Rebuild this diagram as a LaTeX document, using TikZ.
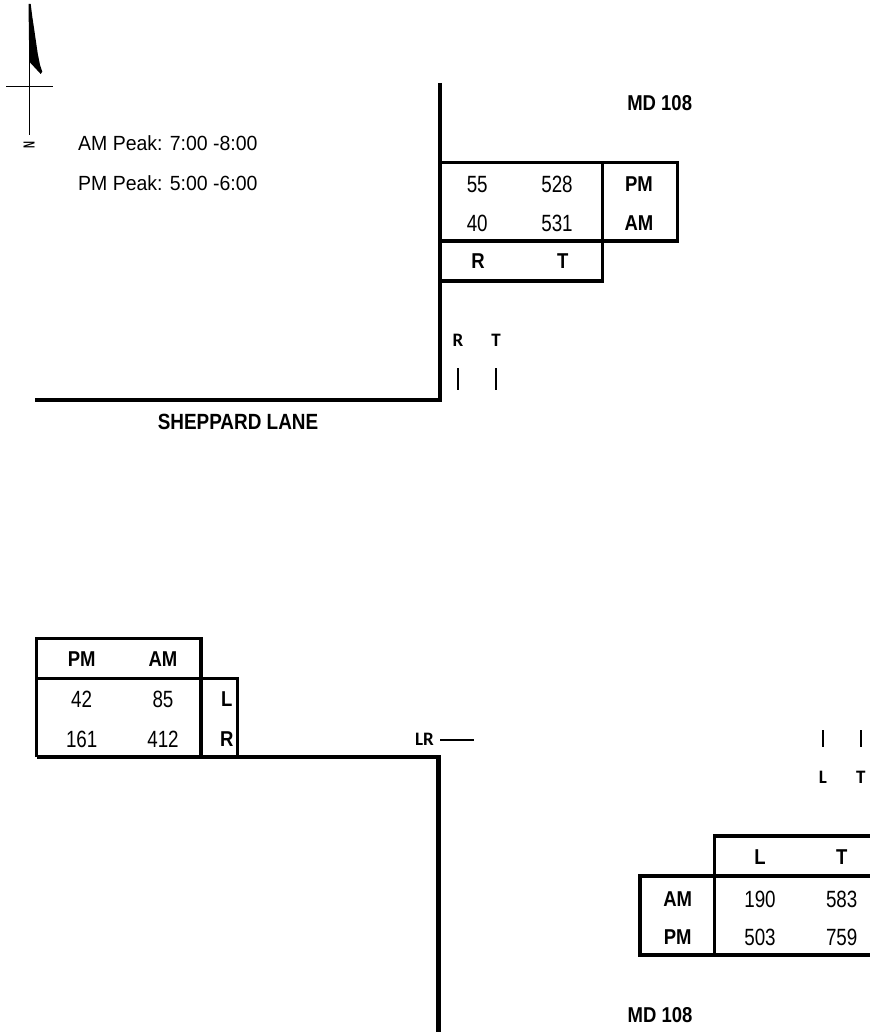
\documentclass[tikz,border=0pt]{standalone}
\usepackage{fontspec}
\setmainfont{Liberation Sans}
\newfontfamily\numfont[FakeStretch=0.80]{Liberation Sans}
\newfontfamily\peakfont[FakeStretch=0.95]{Liberation Sans}
\newfontfamily\labfont[FakeStretch=0.86]{Liberation Sans}
\newfontfamily\calfont{Carlito}
\begin{document}
\begin{tikzpicture}[x=1pt,y=-1pt,
  road/.style={line width=4.6pt, line join=miter},
  tbl/.style={line width=3.2pt, line join=miter},
  num/.style={font=\fontsize{23.5}{24}\numfont, inner sep=0},
  peak/.style={font=\fontsize{20.5}{21}\peakfont, inner sep=0},
  lab/.style={font=\fontsize{21.5}{22}\labfont\bfseries, inner sep=0},
  small/.style={font=\fontsize{19}{20}\calfont\bfseries, inner sep=0},
  tick/.style={line width=2pt}]
\useasboundingbox (0,0) rectangle (869,1032);
% north arrow
\draw[line width=1pt] (29,4) -- (29,135);
\draw[line width=1pt] (6,86.7) -- (52.7,86.7);
\fill (28.5,4) -- (30.7,4) -- (32.3,16.7) -- (34.3,30) -- (36,41.7) -- (37.7,53.3) -- (40,65) -- (42.3,71.7) -- (40.7,74) -- (29.3,61.7) -- cycle;
\node[rotate=90, inner sep=0, font=\fontsize{16}{16}\selectfont\bfseries] (north) at (29,145) {\scalebox{0.6}[1]{N}};
\node[peak, anchor=base west] (ampeak) at (78,150.7) {AM Peak: 7:00 -8:00};
\node[peak, anchor=base west] (pmpeak) at (78,190.7) {PM Peak: 5:00 -6:00};
% top intersection
\draw[road] (440,83) -- (440,400) -- (35,400);
\draw[tbl] (440,162.5) -- (677.5,162.5) -- (677.5,241) -- (440,241);
\draw[tbl] (602.7,162.5) -- (602.7,281) -- (440,281);
\node[lab, anchor=base] (mdtop) at (659.7,110.5) {MD 108};
\node[num, anchor=base] (a55) at (477.2,192.3) {55};
\node[num, anchor=base] (a528) at (557,192.3) {528};
\node[lab, anchor=base] (apm) at (639,191.7) {PM};
\node[num, anchor=base] (a40) at (477.2,231.5) {40};
\node[num, anchor=base] (a531) at (557,231.5) {531};
\node[lab, anchor=base] (aam) at (639,230) {AM};
\node[lab, anchor=base] (ar) at (478,268.5) {R};
\node[lab, anchor=base] (at) at (562.7,268.5) {T};
\node[small, anchor=base] (sr) at (458,346.7) {R};
\node[small, anchor=base] (st) at (496,346.7) {T};
\draw[tick] (458,368.3) -- (458,390);
\draw[tick] (496,368.3) -- (496,390);
\node[lab, anchor=base, font=\fontsize{22}{22}\labfont\bfseries] (sheppard) at (238,429.3) {SHEPPARD LANE};
% bottom intersection
\draw[tbl] (36.7,757) -- (36.7,638.3) -- (201,638.3) -- (201,757);
\draw[tbl] (36.7,678.3) -- (237.3,678.3) -- (237.3,757);
\draw[road] (36.7,757) -- (438.5,757) -- (438.5,1045);
\node[lab, anchor=base] (bpm) at (81.7,666.5) {PM};
\node[lab, anchor=base] (bam) at (163,666.5) {AM};
\node[num, anchor=base] (b42) at (81.7,707.5) {42};
\node[num, anchor=base] (b85) at (163,707.5) {85};
\node[lab, anchor=base] (bl) at (226.7,706.7) {L};
\node[num, anchor=base] (b161) at (81.7,747.5) {161};
\node[num, anchor=base] (b412) at (163,747.5) {412};
\node[lab, anchor=base] (br) at (226.7,746.7) {R};
\node[small, anchor=base west] (lr) at (415,745) {LR};
\coordinate (dashend) at (474,740);
\draw[line width=1.3pt] (lr.east |- dashend) ++(6,0) -- (dashend);
\draw[tick] (823,730) -- (823,747);
\draw[tick] (860.7,730) -- (860.7,747);
\node[small, anchor=base] (rl) at (823,783.3) {L};
\node[small, anchor=base] (rt) at (860.7,783.3) {T};
\draw[tbl] (880,836) -- (714.3,836) -- (714.3,955);
\draw[tbl] (880,876) -- (640,876) -- (640,955) -- (880,955);
\node[lab, anchor=base] (cl) at (760,864) {L};
\node[lab, anchor=base] (ct) at (841.7,864) {T};
\node[lab, anchor=base] (cam) at (677.7,906) {AM};
\node[num, anchor=base] (c190) at (760,907) {190};
\node[num, anchor=base] (c583) at (841.7,907) {583};
\node[lab, anchor=base] (cpm) at (677.7,944) {PM};
\node[num, anchor=base] (c503) at (760,945) {503};
\node[num, anchor=base] (c759) at (841.7,945) {759};
\node[lab, anchor=base] (mdbot) at (660,1022.7) {MD 108};
\end{tikzpicture}
\end{document}
